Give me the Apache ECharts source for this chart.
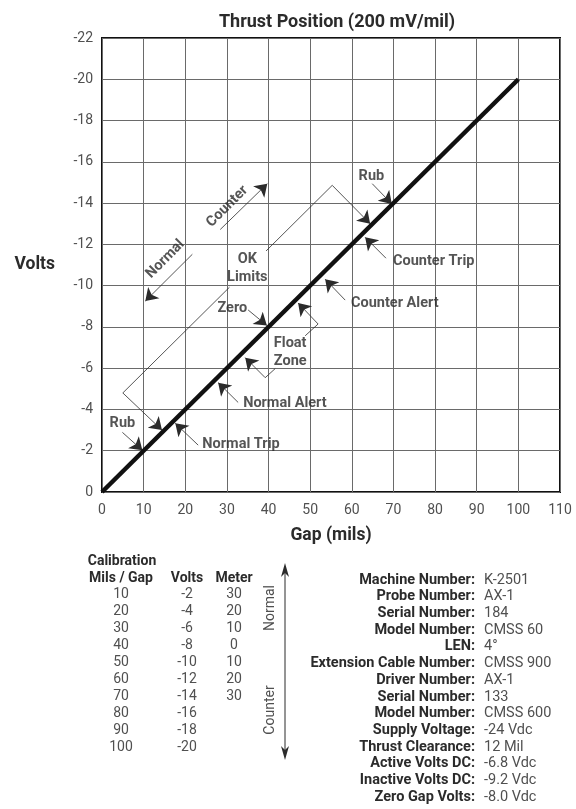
<!DOCTYPE html>
<html>
<head>
<meta charset="utf-8">
<script src="https://cdn.jsdelivr.net/npm/echarts@6/dist/echarts.min.js"></script>
<style>
html, body { margin: 0; padding: 0; background: #fff; }
#c1 { width: 576px; height: 809px; }
</style>
</head>
<body>
<div id="c1"></div>
<script>
// gap (mils) vs probe volts, 200 mV/mil
var responseLine = [[0, 0], [100, -20]];

// bracket pieces (no arrow heads)
var okLimitLines = [
    [[5, -4.8], [30.6, -9.92]],
    [[39.4, -11.68], [55.3, -14.86]]
];
var floatZoneLines = [
    [[51.9, -8.14], [48.8, -7.57]],
    [[41.6, -5.98], [39.2, -5.54]]
];

// leaders with an arrow head at the end point
var arrowLines = [
    [[5, -4.8], [14.4, -3.0]],         // ok limits, normal side
    [[55.3, -14.86], [64.4, -13.0]],   // ok limits, counter side
    [[4.9, -2.89], [9.7, -2.02]],      // rub (normal)
    [[64.9, -14.94], [69.6, -13.96]],  // rub (counter)
    [[23.1, -2.27], [17.6, -3.33]],    // normal trip
    [[32.7, -4.34], [27.9, -5.30]],    // normal alert
    [[39.2, -5.54], [34.4, -6.51]],    // float zone low
    [[51.9, -8.14], [47.1, -9.16]],    // float zone high
    [[35.1, -8.82], [39.6, -8.07]],    // zero
    [[58.4, -9.30], [53.6, -10.31]],   // counter alert
    [[68.2, -11.33], [63.2, -12.34]],  // counter trip
    [[21.7, -11.52], [10.4, -9.25]],   // normal direction
    [[28.4, -12.72], [39.7, -14.94]]   // counter direction
];

var noteLabels = [
    { name: 'Rub', value: [4.9, -3.33] },
    { name: 'Rub', value: [64.7, -15.28] },
    { name: 'Normal Trip', value: [24.1, -2.31], label: { align: 'left' } },
    { name: 'Normal Alert', value: [33.9, -4.29], label: { align: 'left' } },
    { name: 'Float\nZone', value: [45.2, -6.75] },
    { name: 'Zero', value: [31.3, -8.92] },
    { name: 'OK\nLimits', value: [34.9, -10.84] },
    { name: 'Counter Alert', value: [59.8, -9.16], label: { align: 'left' } },
    { name: 'Counter Trip', value: [69.9, -11.18], label: { align: 'left' } },
    { name: 'Normal', value: [15.2, -11.28], label: { rotate: 45 } },
    { name: 'Counter', value: [30.1, -13.83], label: { rotate: 45 } }
];

// calibration table
var calGap = [10, 20, 30, 40, 50, 60, 70, 80, 90, 100];
var calVolts = [-2, -4, -6, -8, -10, -12, -14, -16, -18, -20];
var calMeter = [30, 20, 10, 0, 10, 20, 30];

// setup sheet
var infoLabels = ['Machine Number:', 'Probe Number:', 'Serial Number:', 'Model Number:', 'LEN:',
    'Extension Cable Number:', 'Driver Number:', 'Serial Number:', 'Model Number:',
    'Supply Voltage:', 'Thrust Clearance:', 'Active Volts DC:', 'Inactive Volts DC:', 'Zero Gap Volts:'];
var infoValues = ['K-2501', 'AX-1', '184', 'CMSS 60', '4°', 'CMSS 900', 'AX-1', '133', 'CMSS 600',
    '-24 Vdc', '12 Mil', '-6.8 Vdc', '-9.2 Vdc', '-8.0 Vdc'];

var FONT = 'Roboto';
var ink = '#2b2b2b';
var grey = '#505050';

var graphics = [];
function txt(x, y, s, opt) {
    graphics.push({
        type: 'text', x: x, y: y, rotation: opt.rotation || 0,
        style: {
            text: s, fill: opt.fill || grey, font: (opt.weight || 'normal') + ' ' + (opt.size || 14) + 'px ' + FONT,
            textAlign: opt.align || 'center', textVerticalAlign: 'middle'
        }
    });
}

txt(122, 561, 'Calibration', { fill: ink, weight: 'bold' });
txt(121, 578, 'Mils / Gap', { fill: ink, weight: 'bold' });
txt(187, 578, 'Volts', { fill: ink, weight: 'bold' });
txt(234, 578, 'Meter', { fill: ink, weight: 'bold' });
calGap.forEach(function (g, i) {
    var y = 594 + i * 17.1;
    txt(121, y, String(g), {});
    txt(187, y, String(calVolts[i]), {});
    if (i < calMeter.length) txt(234, y, String(calMeter[i]), {});
});
txt(270, 608, 'Normal', { rotation: Math.PI / 2 });
txt(270, 710, 'Counter', { rotation: Math.PI / 2 });
graphics.push({ type: 'line', shape: { x1: 285, y1: 568, x2: 285, y2: 755 }, style: { stroke: ink, lineWidth: 1 } });
graphics.push({ type: 'polygon', shape: { points: [[285, 563], [281, 577], [285, 573], [289, 577]] }, style: { fill: ink } });
graphics.push({ type: 'polygon', shape: { points: [[285, 760], [281, 746], [285, 750], [289, 746]] }, style: { fill: ink } });

infoLabels.forEach(function (s, i) {
    var y = 580 + i * 16.7;
    txt(475, y, s, { fill: ink, weight: 'bold', align: 'right', size: 14.5 });
    txt(484, y, infoValues[i], { align: 'left', size: 14.5 });
});

var ec_main = echarts.init(document.getElementById('c1'));
var option = {
    backgroundColor: '#fff',
    animation: false,
    title: {
        text: 'Thrust Position (200 mV/mil)',
        left: 332, top: 8, textAlign: 'center',
        textStyle: { fontFamily: FONT, fontSize: 18, fontWeight: 'bold', color: ink }
    },
    grid: {
        left: 102, right: 16, top: 38, bottom: 317,
        show: true, borderColor: '#111', borderWidth: 2
    },
    xAxis: {
        type: 'value', min: 0, max: 110, interval: 10,
        name: 'Gap (mils)', nameLocation: 'middle', nameGap: 35,
        nameTextStyle: { fontFamily: FONT, fontSize: 17.5, fontWeight: 'bold', color: ink },
        axisLine: { show: false }, axisTick: { show: false },
        axisLabel: { fontFamily: FONT, fontSize: 14, color: grey, margin: 11 },
        splitLine: { lineStyle: { color: '#6a6a6a', width: 1 } }
    },
    yAxis: {
        type: 'value', min: -22, max: 0, interval: 2, inverse: true,
        name: 'Volts', nameLocation: 'middle', nameGap: 47, nameRotate: 0,
        nameTextStyle: { fontFamily: FONT, fontSize: 17.5, fontWeight: 'bold', color: ink, padding: [6, 0, 0, 0] },
        axisLine: { show: false }, axisTick: { show: false },
        axisLabel: { fontFamily: FONT, fontSize: 14, color: grey, margin: 9 },
        splitLine: { lineStyle: { color: '#6a6a6a', width: 1 } }
    },
    graphic: graphics,
    series: [
        {
            type: 'lines', coordinateSystem: 'cartesian2d', silent: true, polyline: true,
            lineStyle: { color: ink, width: 0.8, opacity: 1 },
            data: okLimitLines.concat(floatZoneLines).map(function (c) { return { coords: c }; })
        },
        {
            type: 'lines', coordinateSystem: 'cartesian2d', silent: true,
            symbol: ['none', 'arrow'], symbolSize: [7, 12],
            lineStyle: { color: ink, width: 0.8, opacity: 1 },
            itemStyle: { color: ink },
            data: arrowLines.map(function (c) { return { coords: c }; })
        },
        {
            type: 'line', data: responseLine, symbol: 'none', silent: true,
            lineStyle: { color: '#111', width: 4.5 }, z: 5
        },
        {
            type: 'scatter', data: noteLabels, symbolSize: 0, silent: true, z: 6,
            label: {
                show: true, position: 'inside', formatter: '{b}',
                fontFamily: FONT, fontSize: 14.5, fontWeight: 'bold', color: ink, lineHeight: 18
            }
        }
    ]
};
ec_main.setOption(option);
</script>
</body>
</html>
